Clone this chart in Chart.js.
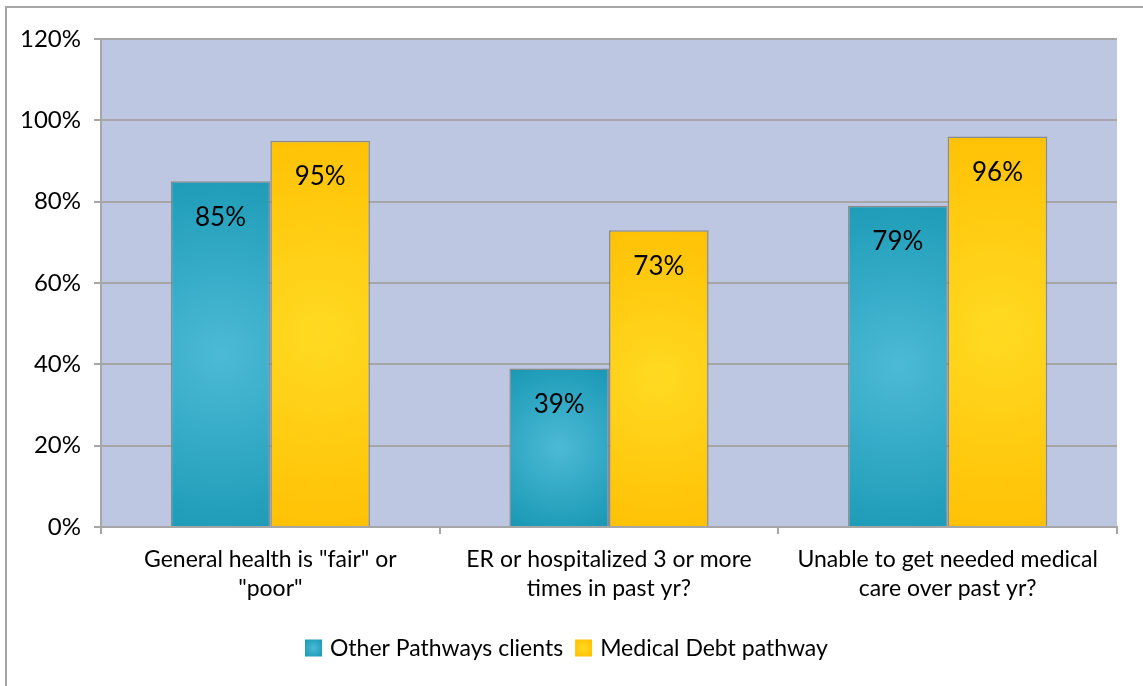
<!DOCTYPE html>
<html>
<head>
<meta charset="utf-8">
<script src="https://cdn.jsdelivr.net/npm/chart.js@4.4.1/dist/chart.umd.min.js"></script>
<style>
  html, body { margin: 0; padding: 0; background: #fff; }
  canvas { display: block; }
</style>
</head>
<body>
<canvas id="chart" width="1143" height="686"></canvas>
<script>
const categories = [
    ['General health is "fair" or', '"poor"'],
    ['ER or hospitalized 3 or more', 'times in past yr?'],
    ['Unable to get needed medical', 'care over past yr?']
]
const otherPathways = [85, 39, 79]
const medicalDebt = [95, 73, 96]
const yTicks = [0, 20, 40, 60, 80, 100, 120]

const FONT = 'Lato, "Open Sans", sans-serif'
const BAR_EDGE = 'rgba(128,128,128,0.85)'

// light centre, darker rim, per bar
const palettes = [
    { inner: '#4cbad6', outer: '#1797b2', flat: '#3aaecb' },
    { inner: '#ffda22', outer: '#ffbd00', flat: '#ffcc10' }
]

const barShading = {
    id: 'barShading',
    beforeDatasetsDraw(chart) {
        const ctx = chart.ctx
        chart.data.datasets.forEach((ds, di) => {
            const p = palettes[di]
            chart.getDatasetMeta(di).data.forEach(bar => {
                const { x, y, base, width } = bar.getProps(['x', 'y', 'base', 'width'], true)
                const cy = (y + base) / 2
                const h = base - y
                const r = Math.max(width, h) * 0.6
                const g = ctx.createRadialGradient(x, cy, 0, x, cy, r)
                g.addColorStop(0, p.inner)
                g.addColorStop(1, p.outer)
                bar.options = Object.assign({}, bar.options, { backgroundColor: g, borderColor: BAR_EDGE })
            })
        })
    }
}

const plotFrame = {
    id: 'plotFrame',
    beforeDraw(chart) {
        const { ctx, chartArea: a } = chart
        ctx.save()
        ctx.fillStyle = '#bec7e1'
        ctx.fillRect(a.left, a.top, a.right - a.left, a.bottom - a.top)
        // outer box of the chart object
        ctx.strokeStyle = '#a6a6a6'
        ctx.lineWidth = 2
        ctx.beginPath()
        ctx.moveTo(6, chart.height + 5)
        ctx.lineTo(6, 7)
        ctx.lineTo(chart.width + 5, 7)
        ctx.stroke()
        ctx.restore()
    }
}

const valueLabels = {
    id: 'valueLabels',
    afterDatasetsDraw(chart) {
        const ctx = chart.ctx
        ctx.save()
        ctx.font = '26px ' + FONT
        ctx.fillStyle = '#000'
        ctx.textAlign = 'center'
        ctx.textBaseline = 'middle'
        chart.data.datasets.forEach((ds, di) => {
            chart.getDatasetMeta(di).data.forEach((bar, i) => {
                ctx.fillText(ds.data[i] + '%', bar.x, bar.y + 36)
            })
        })
        ctx.restore()
    }
}

const bottomLegend = {
    id: 'bottomLegend',
    afterDraw(chart) {
        const ctx = chart.ctx
        const box = 17, gap = 8, spacing = 12, cy = 648
        ctx.save()
        ctx.font = '23px ' + FONT
        ctx.textBaseline = 'middle'
        let x = 305
        chart.data.datasets.forEach((ds, di) => {
            const p = palettes[di]
            const g = ctx.createRadialGradient(x + box / 2, cy, 0, x + box / 2, cy, box * 0.7)
            g.addColorStop(0, p.inner)
            g.addColorStop(1, p.outer)
            ctx.fillStyle = g
            ctx.fillRect(x, cy - box / 2, box, box)
            ctx.fillStyle = '#000'
            ctx.fillText(ds.label, x + box + gap, cy + 1)
            x += box + gap + ctx.measureText(ds.label).width + spacing
        })
        ctx.restore()
    }
}

new Chart(document.getElementById('chart').getContext('2d'), {
    type: 'bar',
    data: {
        labels: categories,
        datasets: [
            { label: 'Other Pathways clients', data: otherPathways, backgroundColor: palettes[0].flat, borderColor: BAR_EDGE },
            { label: 'Medical Debt pathway', data: medicalDebt, backgroundColor: palettes[1].flat, borderColor: BAR_EDGE }
        ]
    },
    options: {
        responsive: false,
        animation: false,
        layout: { padding: { top: 39, right: 26, bottom: 0, left: 0 } },
        datasets: {
            bar: {
                categoryPercentage: 2 / 3.4,
                barPercentage: 1,
                borderWidth: 1.5
            }
        },
        plugins: {
            colors: { enabled: false },
            legend: { display: false },
            tooltip: { enabled: false }
        },
        scales: {
            x: {
                afterFit: (scale) => { scale.height = 159 },
                border: { color: '#a6a6a6', width: 2 },
                grid: { drawOnChartArea: false, drawTicks: true, tickLength: 7, color: '#a6a6a6', lineWidth: 2, offset: true },
                ticks: { color: '#000', font: { family: FONT, size: 23, lineHeight: 1.22 }, padding: 12, maxRotation: 0 }
            },
            y: {
                min: 0,
                max: 120,
                afterFit: (scale) => { scale.width = 101 },
                afterBuildTicks: (scale) => { scale.ticks = yTicks.map(v => ({ value: v })) },
                border: { color: '#a6a6a6', width: 2 },
                grid: { color: '#a6a6a6', lineWidth: 2, tickLength: 7 },
                ticks: {
                    color: '#000',
                    font: { family: FONT, size: 24 },
                    padding: 13,
                    callback: (v) => v + '%'
                }
            }
        }
    },
    plugins: [plotFrame, barShading, valueLabels, bottomLegend]
})
</script>
</body>
</html>
